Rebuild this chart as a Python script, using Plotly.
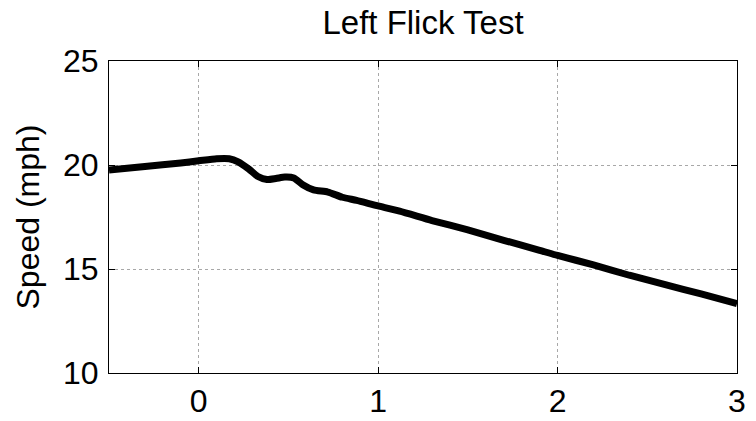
import plotly.graph_objects as go

time_s = [-0.5, -0.3, -0.1, 0.0, 0.1, 0.17, 0.22, 0.28, 0.33, 0.38, 0.43, 0.48,
          0.53, 0.58, 0.64, 0.72, 0.8, 0.88, 0.96, 1.0, 1.12, 1.3, 1.5, 1.7,
          1.9, 2.0, 2.2, 2.4, 2.6, 2.8, 3.0]
speed_mph = [19.76, 19.93, 20.1, 20.2, 20.3, 20.3, 20.15, 19.8, 19.45, 19.3, 19.35, 19.42,
             19.38, 19.05, 18.8, 18.7, 18.45, 18.3, 18.12, 18.03, 17.78, 17.33, 16.88, 16.38,
             15.9, 15.65, 15.2, 14.7, 14.25, 13.8, 13.33]

x_ticks = [0, 1, 2, 3]
y_ticks = [10, 15, 20, 25]

FONT = "Liberation Sans, Arial, sans-serif"

fig = go.Figure()
fig.add_trace(go.Scatter(x=time_s, y=speed_mph, mode="lines",
                         line=dict(color="black", width=7, shape="spline", smoothing=0.6),
                         showlegend=False, hoverinfo="skip"))

axis_common = dict(showline=True, linecolor="black", linewidth=1, mirror="ticks",
                   ticks="inside", ticklen=6, tickcolor="black", automargin=False,
                   showgrid=True, gridcolor="#a8a8a8", griddash="dot", gridwidth=1,
                   zeroline=False, tickfont=dict(family=FONT, size=32, color="black"))

fig.update_xaxes(range=[-0.5, 3], tickvals=x_ticks, ticktext=[str(v) for v in x_ticks], **axis_common)
fig.update_yaxes(range=[10, 25], tickvals=y_ticks, ticktext=[str(v) for v in y_ticks],
                 ticklabelstandoff=3,
                 title=dict(text="Speed (mph)", font=dict(family=FONT, size=32, color="black"), standoff=13),
                 **axis_common)

fig.update_layout(
    width=756, height=421,
    margin=dict(l=109, r=19, t=61, b=48),
    paper_bgcolor="white", plot_bgcolor="white",
    title=dict(text="Left Flick Test", x=(109 + 737) / 2 / 756, xanchor="center",
               y=1 - 22 / 421, yanchor="middle",
               font=dict(family=FONT, size=33, color="black")),
)

fig.write_html("out.html", config={"displayModeBar": False},
               post_script="document.body.style.margin='0';document.body.style.overflow='hidden';")
